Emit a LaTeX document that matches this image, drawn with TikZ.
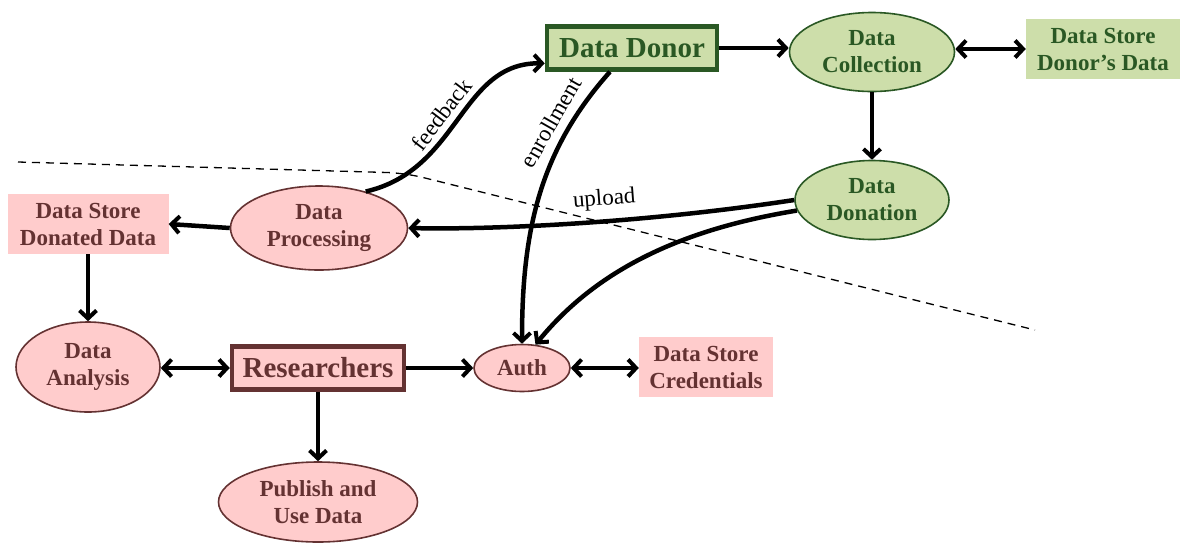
\documentclass[tikz,border=0pt]{standalone}
\usepackage{fontspec}
\setmainfont{Liberation Serif}
\usetikzlibrary{shapes.geometric,arrows.meta}
\definecolor{gfill}{RGB}{205,222,170}
\definecolor{gdark}{RGB}{42,88,36}
\definecolor{pfill}{RGB}{255,204,204}
\definecolor{pdark}{RGB}{100,50,50}
\tikzset{
  lbl/.style={font=\fontsize{23}{27}\selectfont\bfseries, align=center, inner sep=0pt},
  gell/.style={lbl, ellipse, draw=gdark, fill=gfill, line width=1.6pt, text=gdark},
  pell/.style={lbl, ellipse, draw=pdark, fill=pfill, line width=1.6pt, text=pdark},
  gstore/.style={lbl, rectangle, fill=gfill, text=gdark},
  pstore/.style={lbl, rectangle, fill=pfill, text=pdark},
  gactor/.style={lbl, rectangle, draw=gdark, fill=gfill, line width=4.5pt, text=gdark, font=\fontsize{29}{32}\selectfont\bfseries},
  pactor/.style={lbl, rectangle, draw=pdark, fill=pfill, line width=4.5pt, text=pdark, font=\fontsize{29}{32}\selectfont\bfseries},
  tip/.tip={Straight Barb[length=8pt,width=17pt,line width=4pt]},
  arr/.style={line width=4.5pt, -tip},
  darr/.style={line width=4.5pt, tip-tip},
  elbl/.style={font=\fontsize{23}{26}\selectfont, inner sep=0pt},
}
\begin{document}
\begin{tikzpicture}[x=1pt,y=-1pt]
\useasboundingbox (0,0) rectangle (1187,542);
% separator
\draw[dashed, line width=1.3pt, dash pattern=on 8pt off 6pt, rounded corners=18pt] (18,162) -- (405,173) -- (1035,330);
% nodes
\node[gactor, minimum width=170pt, minimum height=43pt] (dd) at (632,48) {Data Donor};
\node[gell, minimum width=165pt, minimum height=79pt] (dc) at (872,52) {Data\\Collection};
\node[gstore, minimum width=154pt, minimum height=60pt] (sdd) at (1103,49) {Data Store\\Donor’s Data};
\node[gell, minimum width=154pt, minimum height=79pt] (ddon) at (872,200) {Data\\Donation};
\node[pell, minimum width=177pt, minimum height=84pt] (dp) at (319,228) {Data\\Processing};
\node[pstore, minimum width=161pt, minimum height=60pt] (sdon) at (88,224) {Data Store\\Donated Data};
\node[pell, minimum width=144pt, minimum height=90pt] (da) at (88,367) {Data\\Analysis};
\node[pactor, minimum width=172pt, minimum height=43pt] (res) at (318,368) {Researchers};
\node[pell, minimum width=96pt, minimum height=47pt] (auth) at (522,368) {Auth};
\node[pstore, minimum width=134pt, minimum height=60pt] (scred) at (706,367) {Data Store\\Credentials};
\node[pell, minimum width=199pt, minimum height=80pt] (pub) at (318,502) {Publish and\\Use Data};
% connectors
\draw[arr] (dd.east) -- (dd.east -| dc.west);
\draw[darr] (dc.east |- sdd.west) -- (sdd.west);
\draw[arr] (dc.south) -- (ddon.north);
\draw[arr] (ddon.west) .. controls (650,222) and (500,230) .. node[elbl, pos=0.44, sloped, above, yshift=9pt] {upload} (dp.east);
\draw[arr] (ddon.188) .. controls (690,228) and (600,265) .. (auth.60);
\draw[arr] ([xshift=-22pt]dd.south) .. controls (540,150) and (522,230) .. node[elbl, pos=0.25, sloped, above, yshift=8pt] {enrollment} (auth.north);
\draw[arr] (dp.38) .. controls (460,170) and (460,62) .. node[elbl, pos=0.47, sloped, above, yshift=6pt] {feedback} (dd.190);
\draw[arr] (dp.west) -- (sdon.east);
\draw[arr] (sdon.south) -- (da.north);
\draw[darr] (da.east |- res.west) -- (res.west);
\draw[arr] (res.east) -- (auth.west);
\draw[darr] (auth.east) -- (auth.east -| scred.west);
\draw[arr] (res.south) -- (pub.north);
\end{tikzpicture}
\end{document}
